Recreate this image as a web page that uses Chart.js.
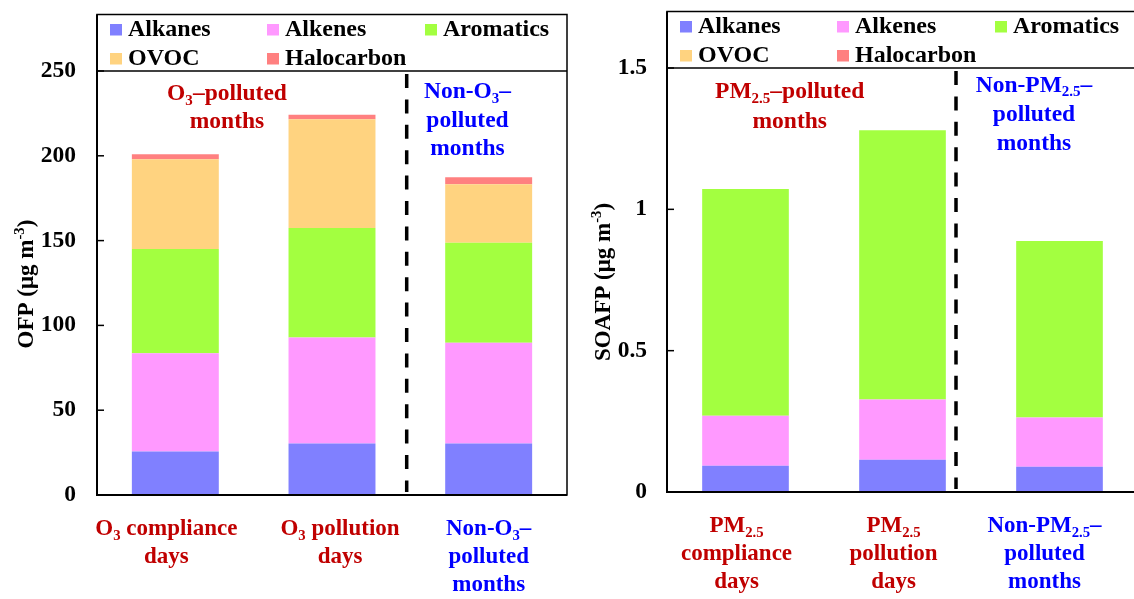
<!DOCTYPE html>
<html>
<head>
<meta charset="utf-8">
<script src="https://cdn.jsdelivr.net/npm/chart.js@4.4.1/dist/chart.umd.min.js"></script>
<style>
  html, body { margin: 0; padding: 0; background: #fff; overflow: hidden; width: 1134px; height: 599px; }
  canvas { position: absolute; top: 0; }
  #ofpChart { left: 0; }
  #soaChart { left: 580px; }
</style>
</head>
<body>
<canvas id="ofpChart" width="580" height="599"></canvas>
<canvas id="soaChart" width="560" height="599"></canvas>
<script>
// VOC groups, shared by both panels
const groups = ["Alkanes", "Alkenes", "Aromatics", "OVOC", "Halocarbon"];
const groupColors = ["#8080ff", "#ff99ff", "#a3ff40", "#ffd380", "#ff8080"];

// left panel: OFP (ug m-3)
const ofpCategories = ["O3 compliance days", "O3 pollution days", "Non-O3-polluted months"];
const ofpAlkanes = [25.6, 30.3, 30.3];
const ofpAlkenes = [58.0, 62.5, 59.4];
const ofpAromatics = [61.4, 64.7, 59.0];
const ofpOVOC = [52.9, 64.1, 34.5];
const ofpHalocarbon = [3.0, 2.6, 4.2];
const ofpTicks = [0, 50, 100, 150, 200, 250];
const ofpTickLines = [["O_{3} compliance", "days"], ["O_{3} pollution", "days"], ["Non-O_{3}–", "polluted", "months"]];

// right panel: SOAFP (ug m-3)
const soaCategories = ["PM2.5 compliance days", "PM2.5 pollution days", "Non-PM2.5-polluted months"];
const soaAlkanes = [0.093, 0.114, 0.089];
const soaAlkenes = [0.177, 0.213, 0.175];
const soaAromatics = [0.802, 0.953, 0.624];
const soaOVOC = [0, 0, 0];
const soaHalocarbon = [0, 0, 0];
const soaTicks = [0, 0.5, 1, 1.5];
const soaTickLines = [["PM_{2.5}", "compliance", "days"], ["PM_{2.5}", "pollution", "days"], ["Non-PM_{2.5}–", "polluted", "months"]];

const RED = "#c00000";
const BLUE = "#0000ff";
const FONT = '"Liberation Serif", "Times New Roman", serif';

// "O_{3}" -> subscript, "^{-3}" -> superscript
function parseRich(str) {
  const parts = [];
  const re = /([_^])\{([^}]*)\}/g;
  let last = 0, m;
  while ((m = re.exec(str))) {
    if (m.index > last) parts.push([str.slice(last, m.index), ""]);
    parts.push([m[2], m[1] === "_" ? "sub" : "sup"]);
    last = re.lastIndex;
  }
  if (last < str.length) parts.push([str.slice(last), ""]);
  return parts;
}

function drawRich(ctx, str, x, y, size, color) {
  const parts = parseRich(str);
  const fontFor = k => "bold " + (k ? size * 0.64 : size) + "px " + FONT;
  let w = 0;
  parts.forEach(([t, k]) => { ctx.font = fontFor(k); w += ctx.measureText(t).width; });
  let cx = x - w / 2;
  ctx.fillStyle = color;
  ctx.textAlign = "left";
  ctx.textBaseline = "alphabetic";
  parts.forEach(([t, k]) => {
    ctx.font = fontFor(k);
    const dy = k === "sub" ? size * 0.2 : k === "sup" ? -size * 0.4 : 0;
    ctx.fillText(t, cx, y + dy);
    cx += ctx.measureText(t).width;
  });
}

// frame, legend, dashed divider, notes and category labels
function makeDecor(cfg) {
  return {
    id: "decor",
    afterDraw(chart) {
      const ctx = chart.ctx;
      const a = chart.chartArea;
      const xs = chart.scales.x, ys = chart.scales.y;
      const boxTop = a.top - 56.5;
      ctx.save();
      ctx.strokeStyle = "#000";
      ctx.lineWidth = 1.5;
      ctx.strokeRect(a.left, boxTop, a.right - a.left, a.bottom - boxTop);
      ctx.beginPath();
      ctx.moveTo(a.left, a.top);
      ctx.lineTo(a.right, a.top);
      ctx.stroke();
      ctx.lineWidth = 2;
      ctx.beginPath();
      ctx.moveTo(a.left, boxTop);
      ctx.lineTo(a.left, a.bottom);
      ctx.lineTo(a.right, a.bottom);
      ctx.stroke();

      // inward tick marks
      ctx.lineWidth = 1.5;
      ys.ticks.forEach(t => {
        const y = ys.getPixelForValue(t.value);
        ctx.beginPath();
        ctx.moveTo(a.left, y);
        ctx.lineTo(a.left + 7, y);
        ctx.stroke();
      });

      // dashed divider
      ctx.setLineDash([14, 11.4]);
      ctx.lineWidth = 3.5;
      ctx.beginPath();
      ctx.moveTo(cfg.dashX, a.top + 3);
      ctx.lineTo(cfg.dashX, a.bottom - 3);
      ctx.stroke();
      ctx.setLineDash([]);

      // legend in 3 columns
      const cols = [13, 170, 328];
      ctx.font = "bold 24px " + FONT;
      ctx.textAlign = "left";
      ctx.textBaseline = "alphabetic";
      chart.data.datasets.forEach((ds, i) => {
        const row = Math.floor(i / 3);
        const sx = a.left + cols[i % 3];
        const base = a.top - 35 + row * 29;
        ctx.fillStyle = ds.backgroundColor;
        ctx.fillRect(sx, base - 12, 12, 11.5);
        ctx.fillStyle = "#000";
        ctx.fillText(ds.label, sx + 18, base);
      });

      // notes
      cfg.notes.forEach(n => {
        n.lines.forEach((line, j) => drawRich(ctx, line, n.x, n.y[j], 23.5, n.color));
      });

      // category labels
      cfg.tickLines.forEach((lines, i) => {
        const x = xs.getPixelForValue(i) + cfg.tickOffsets[i];
        lines.forEach((line, j) => drawRich(ctx, line, x, a.bottom + 40 + j * 28, 23, cfg.tickColors[i]));
      });

      // y title
      ctx.translate(cfg.titleX, cfg.titleY);
      ctx.rotate(-Math.PI / 2);
      drawRich(ctx, cfg.title, 0, 0, 23, "#000");
      ctx.restore();
    }
  };
}

function makeChart(id, categories, series, ticks, layout, decor) {
  const ctx = document.getElementById(id).getContext("2d");
  return new Chart(ctx, {
    type: "bar",
    data: {
      labels: categories,
      datasets: series.map((values, i) => ({
        label: groups[i],
        data: values,
        backgroundColor: groupColors[i],
        borderWidth: 0,
        categoryPercentage: 1,
        barPercentage: layout.barPct,
      })),
    },
    options: {
      responsive: false,
      animation: false,
      devicePixelRatio: 1,
      layout: { padding: { left: 0, top: layout.top, right: layout.right, bottom: 0 } },
      plugins: { legend: { display: false }, tooltip: { enabled: false } },
      scales: {
        x: {
          stacked: true,
          ticks: { display: false },
          grid: { display: false },
          border: { display: false },
          afterFit: s => { s.height = layout.xHeight; },
        },
        y: {
          stacked: true,
          min: ticks[0],
          max: ticks[ticks.length - 1],
          afterBuildTicks: s => { s.ticks = ticks.map(v => ({ value: v })); },
          ticks: {
            padding: layout.tickPad,
            color: "#000",
            font: { family: FONT, size: 23.5, weight: "bold" },
            callback: v => String(v),
          },
          grid: { display: false, drawTicks: false },
          border: { display: false },
          afterFit: s => { s.width = layout.yWidth; },
        },
      },
    },
    plugins: [makeDecor(decor)],
  });
}

makeChart(
  "ofpChart",
  ofpCategories,
  [ofpAlkanes, ofpAlkenes, ofpAromatics, ofpOVOC, ofpHalocarbon],
  ofpTicks,
  { top: 71, right: 13, xHeight: 104, yWidth: 97, tickPad: 21, barPct: 0.555 },
  {
    dashX: 406.7,
    tickLines: ofpTickLines,
    tickColors: [RED, RED, BLUE],
    tickOffsets: [-9, 8, 0],
    title: "OFP (μg m^{-3})",
    titleX: 33,
    titleY: 284,
    notes: [
      { lines: ["O_{3}–polluted", "months"], x: 227, y: [100, 128], color: RED },
      { lines: ["Non-O_{3}–", "polluted", "months"], x: 467.5, y: [98.3, 126.7, 155], color: BLUE },
    ],
  }
);

makeChart(
  "soaChart",
  soaCategories,
  [soaAlkanes, soaAlkenes, soaAromatics, soaOVOC, soaHalocarbon],
  soaTicks,
  { top: 68, right: 2, xHeight: 107, yWidth: 87, tickPad: 20, barPct: 0.552 },
  {
    dashX: 376,
    tickLines: soaTickLines,
    tickColors: [RED, RED, BLUE],
    tickOffsets: [-9, -9, -15],
    title: "SOAFP (μg m^{-3})",
    titleX: 30,
    titleY: 282,
    notes: [
      { lines: ["PM_{2.5}–polluted", "months"], x: 209.7, y: [98.3, 128.3], color: RED },
      { lines: ["Non-PM_{2.5}–", "polluted", "months"], x: 454, y: [91.7, 120.5, 149.5], color: BLUE },
    ],
  }
);
</script>
</body>
</html>
